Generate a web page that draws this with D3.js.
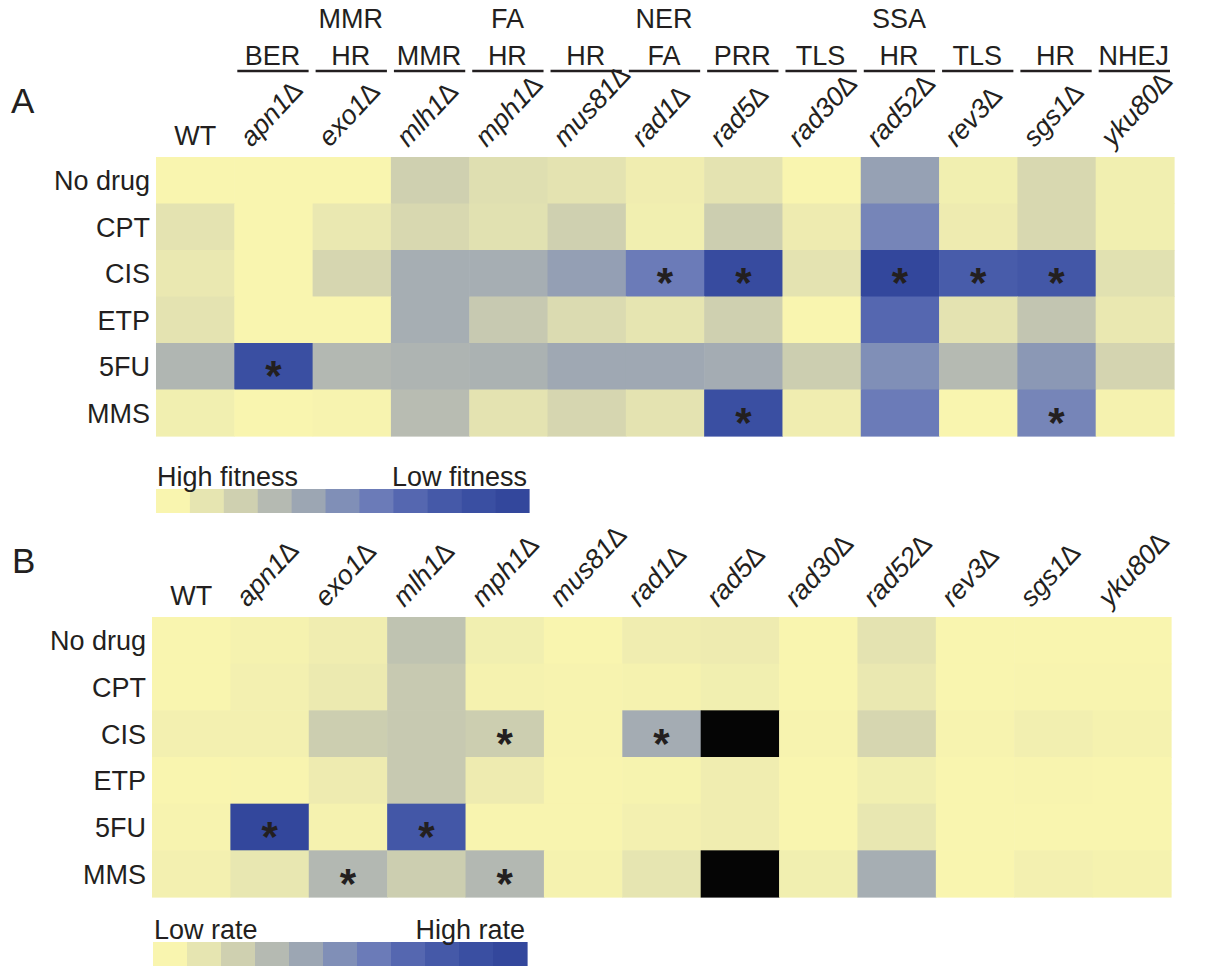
<!DOCTYPE html>
<html>
<head>
<meta charset="utf-8">
<script src="https://cdn.jsdelivr.net/npm/d3@7"></script>
<style>
  html, body { margin: 0; padding: 0; background: #fff; }
  svg text { font-family: "Liberation Sans", Arial, sans-serif; fill: #231f20; }
</style>
</head>
<body>
<svg id="fig" width="1207" height="966"></svg>
<script>
// Strains (columns) and drug treatments (rows)
const strains = ["WT", "apn1", "exo1", "mlh1", "mph1", "mus81", "rad1", "rad5", "rad30", "rad52", "rev3", "sgs1", "yku80"];
const drugs = ["No drug", "CPT", "CIS", "ETP", "5FU", "MMS"];

// Repair pathway annotation above each mutant column (top line first)
const pathways = [[], ["BER"], ["MMR", "HR"], ["MMR"], ["FA", "HR"], ["HR"], ["NER", "FA"], ["PRR"], ["TLS"], ["SSA", "HR"], ["TLS"], ["HR"], ["NHEJ"]];

// Colour steps of the 11-level scale (level 0 .. 10)
const levelColors = ["#f9f5af", "#e6e5b1", "#cfd0b0", "#b5bab2", "#9ca6b3", "#808fb7", "#6b7bb8", "#5567b0", "#4559a8", "#3a4fa2", "#33479c"];

// Panel A: fitness defect level (0 = high fitness, 10 = low fitness)
const fitnessNoDrug = [0.0, 0.0, 0.0, 2.0, 1.3, 1.1, 0.5, 1.1, 0.0, 4.2, 0.4, 1.6, 0.4];
const fitnessCPT    = [1.1, 0.0, 0.8, 1.6, 1.2, 2.0, 0.4, 2.1, 0.6, 5.5, 0.6, 1.6, 0.4];
const fitnessCIS    = [0.8, 0.0, 1.7, 3.6, 3.6, 4.3, 6.0, 9.5, 1.1, 10.0, 7.8, 8.2, 1.2];
const fitnessETP    = [1.1, 0.0, 0.0, 3.6, 2.3, 1.5, 1.0, 2.0, 0.0, 7.0, 1.1, 2.5, 0.8];
const fitness5FU    = [3.2, 9.0, 3.1, 3.3, 3.4, 3.9, 3.9, 3.7, 2.1, 5.0, 3.0, 4.6, 1.8];
const fitnessMMS    = [0.4, 0.0, 0.1, 2.9, 1.1, 1.7, 1.1, 9.0, 0.5, 6.0, 0.0, 5.5, 0.2];
const fitnessLevels = [fitnessNoDrug, fitnessCPT, fitnessCIS, fitnessETP, fitness5FU, fitnessMMS];
const fitnessStars = [["CIS", "rad1"], ["CIS", "rad5"], ["CIS", "rad52"], ["CIS", "rev3"], ["CIS", "sgs1"], ["5FU", "apn1"], ["MMS", "rad5"], ["MMS", "sgs1"]];

// Panel B: mutation rate level (0 = low rate, 10 = high rate); null = not determined
const rateNoDrug = [0.0, 0.2, 0.5, 2.6, 0.4, 0.0, 0.5, 0.6, 0.0, 1.1, 0.0, 0.0, 0.0];
const rateCPT    = [0.0, 0.3, 0.7, 2.3, 0.2, 0.1, 0.2, 0.4, 0.0, 0.8, 0.0, 0.05, 0.05];
const rateCIS    = [0.3, 0.3, 2.1, 2.3, 2.1, 0.1, 3.7, null, 0.1, 1.7, 0.1, 0.35, 0.2];
const rateETP    = [0.0, 0.05, 0.6, 2.3, 0.6, 0.05, 0.15, 0.5, 0.0, 0.4, 0.0, 0.05, 0.0];
const rate5FU    = [0.1, 10.0, 0.2, 8.2, 0.05, 0.05, 0.3, 0.5, 0.0, 0.9, 0.0, 0.0, 0.0];
const rateMMS    = [0.3, 0.9, 3.1, 2.1, 3.1, 0.2, 1.0, null, 0.4, 3.6, 0.0, 0.3, 0.2];
const rateLevels = [rateNoDrug, rateCPT, rateCIS, rateETP, rate5FU, rateMMS];
const rateStars = [["CIS", "mph1"], ["CIS", "rad1"], ["5FU", "apn1"], ["5FU", "mlh1"], ["MMS", "exo1"], ["MMS", "mph1"]];

const svg = d3.select("#fig");
const ink = "#231f20";
const fontSize = 27;

const color = d3.scaleLinear()
  .domain(d3.range(levelColors.length))
  .range(levelColors)
  .interpolate(d3.interpolateRgb)
  .clamp(true);

function strainLabel(g, s, x, y) {
  if (s === "WT") {
    g.append("text").attr("x", x).attr("y", y - 2).attr("text-anchor", "middle")
      .attr("font-size", fontSize).text("WT");
  } else {
    g.append("text")
      .attr("transform", `translate(${x - 22},${y + 1}) rotate(-47)`)
      .attr("font-size", fontSize).attr("font-style", "italic")
      .text(s + "\u2206");
  }
}

function heatmap(opts) {
  const g = svg.append("g");
  const x = d3.scaleBand().domain(strains).range([opts.x0, opts.x1]);
  const y = d3.scaleBand().domain(drugs).range([opts.y0, opts.y1]);

  // panel letter
  g.append("text").attr("x", opts.letterX).attr("y", opts.letterY)
    .attr("font-size", 35).text(opts.letter);

  // cells
  opts.levels.forEach((row, i) => {
    row.forEach((v, j) => {
      g.append("rect")
        .attr("x", x(strains[j])).attr("y", y(drugs[i]))
        .attr("width", x.bandwidth() + 0.6).attr("height", y.bandwidth() + 0.6)
        .attr("fill", v === null ? "#050505" : color(v));
    });
  });

  // significance asterisks
  opts.stars.forEach(([d, s]) => {
    g.append("text")
      .attr("x", x(s) + x.bandwidth() / 2)
      .attr("y", y(d) + y.bandwidth() / 2 + 24)
      .attr("text-anchor", "middle")
      .attr("font-size", 42)
      .attr("font-weight", "bold")
      .text("*");
  });

  // row labels
  drugs.forEach(d => {
    g.append("text")
      .attr("x", opts.x0 - 6)
      .attr("y", y(d) + y.bandwidth() / 2 + 10)
      .attr("text-anchor", "end")
      .attr("font-size", fontSize)
      .text(d);
  });

  // column labels
  strains.forEach(s => strainLabel(g, s, x(s) + x.bandwidth() / 2, opts.y0 - 10));

  return { g, x, y };
}

// ---- Panel A: fitness ----
const A = heatmap({
  letter: "A", letterX: 11, letterY: 113,
  x0: 156, x1: 1174, y0: 157, y1: 436,
  levels: fitnessLevels, stars: fitnessStars
});

// pathway headers with underline
strains.forEach((s, j) => {
  const lines = pathways[j];
  if (!lines.length) return;
  const bx = A.x(s), bw = A.x.bandwidth();
  const cx = bx + bw / 2 - 1;
  A.g.append("line")
    .attr("x1", bx + 3).attr("x2", bx + bw - 4)
    .attr("y1", 71).attr("y2", 71)
    .attr("stroke", ink).attr("stroke-width", 2.4);
  lines.forEach((t, k) => {
    const baseline = 65 - (lines.length - 1 - k) * 37;
    A.g.append("text").attr("x", cx).attr("y", baseline)
      .attr("text-anchor", "middle").attr("font-size", fontSize).text(t);
  });
});

// ---- Panel B: mutation rate ----
heatmap({
  letter: "B", letterX: 12, letterY: 573,
  x0: 152, x1: 1171, y0: 617, y1: 897,
  levels: rateLevels, stars: rateStars
});

// ---- Colour keys ----
function colorKey(x0, x1, yBar, leftText, rightText) {
  const g = svg.append("g");
  const steps = d3.range(levelColors.length);
  const kx = d3.scaleBand().domain(steps).range([x0, x1]);
  g.selectAll("rect").data(steps).join("rect")
    .attr("x", d => kx(d)).attr("y", yBar)
    .attr("width", kx.bandwidth() + 0.6).attr("height", 24)
    .attr("fill", d => levelColors[d]);
  g.append("text").attr("x", x0 + 1).attr("y", yBar - 3)
    .attr("font-size", fontSize).text(leftText);
  g.append("text").attr("x", x1 - 2).attr("y", yBar - 3)
    .attr("text-anchor", "end").attr("font-size", fontSize).text(rightText);
}
colorKey(156, 529, 489, "High fitness", "Low fitness");
colorKey(153, 527, 942, "Low rate", "High rate");
</script>
</body>
</html>
